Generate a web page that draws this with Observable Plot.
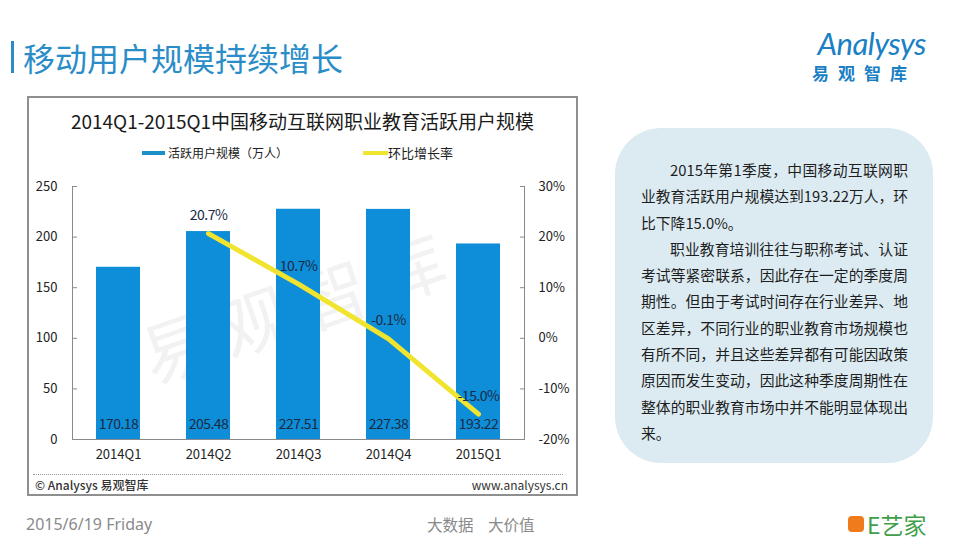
<!DOCTYPE html>
<html>
<head>
<meta charset="utf-8">
<script src="https://cdn.jsdelivr.net/npm/d3@7"></script>
<script src="https://cdn.jsdelivr.net/npm/@observablehq/plot@0.6"></script>
<style>
  html, body { margin: 0; padding: 0; }
  body { width: 960px; height: 540px; position: relative; overflow: hidden; background: #fff;
         font-family: "Noto Sans CJK SC", "Noto Sans", sans-serif; color: #222; }
  .abs { position: absolute; }
  #pageTitle { left: 23px; top: 39px; font-size: 32px; line-height: 36px; color: #2a8dc8; white-space: nowrap; }
  #titleBar { left: 11px; top: 41px; width: 3px; height: 32px; background: #2a8dc8; }
  #logo1 { left: 790px; top: 24px; width: 136px; text-align: right; font-family: Lato, sans-serif; font-size: 31px; line-height: 38px; color: #1a80c4; font-style: italic; letter-spacing: -0.5px; }
  #logo2 { left: 812px; top: 62px; font-size: 17px; line-height: 22px; font-weight: bold; color: #1a80c4; letter-spacing: 9px; white-space: nowrap; }
  #box { left: 27px; top: 96px; width: 551px; height: 400px; box-sizing: border-box; border: 2px solid #8f8f8f; }
  #chartTitle { left: 27px; top: 108px; width: 551px; text-align: center; font-size: 19px; line-height: 26px; color: #1a1a1a; white-space: nowrap; }
  .legSw { height: 4px; }
  .legTx { font-size: 12px; line-height: 16px; color: #222; white-space: nowrap; }
  #watermark { left: 298px; top: 303px; transform: translate(-50%, -50%) rotate(-19deg); font-size: 70px; line-height: 80px; letter-spacing: 12px; color: rgba(150,150,150,0.12); white-space: nowrap; }
  #chart { left: 27px; top: 170px; }
  #chart svg g[aria-label="text"] text { letter-spacing: -0.5px; }
  #dots { left: 33px; top: 474px; width: 530px; border-top: 1px dotted #9a9a9a; }
  #copy { left: 35px; top: 476px; font-size: 12px; line-height: 18px; color: #333; font-weight: 500; white-space: nowrap; }
  #www { left: 400px; width: 168px; text-align: right; top: 476px; font-size: 12px; line-height: 18px; color: #333; white-space: nowrap; }
  #panel { left: 615px; top: 128px; width: 318px; height: 335px; border-radius: 46px; background: #dcebf2; }
  #panelText { left: 641px; top: 157px; width: 267px; font-size: 14.8px; line-height: 26.3px; color: #1e1e1e; }
  #panelText div { white-space: nowrap; text-align: justify; text-align-last: justify; }
  #panelText div.ind { padding-left: 29px; }
  #panelText div.last { text-align-last: left; }
  #date { left: 26px; top: 513px; font-size: 16px; line-height: 22px; color: #8a8a8a; font-family: "Noto Sans", sans-serif; }
  #slogan1 { left: 427px; top: 513px; font-size: 15.5px; line-height: 22px; color: #8a8a8a; }
  #slogan2 { left: 488px; top: 513px; font-size: 15.5px; line-height: 22px; color: #8a8a8a; }
  #eicon { left: 848px; top: 516px; width: 16px; height: 16px; border-radius: 4px; background: #ef7b1c; }
  #etext { left: 867px; top: 510px; font-size: 23px; line-height: 28px; color: #3f9f48; white-space: nowrap; }
</style>
</head>
<body>
<div id="titleBar" class="abs"></div>
<div id="pageTitle" class="abs">移动用户规模持续增长</div>
<div id="logo1" class="abs">Analysys</div>
<div id="logo2" class="abs">易观智库</div>

<div id="box" class="abs"></div>
<div id="chartTitle" class="abs">2014Q1-2015Q1中国移动互联网职业教育活跃用户规模</div>
<div class="abs legSw" style="left:142px;top:151px;width:23px;background:#1a90c8;"></div>
<div class="abs legTx" style="left:168px;top:145px;">活跃用户规模（万人）</div>
<div class="abs legSw" style="left:363px;top:151px;width:25px;background:#f1e42e;"></div>
<div class="abs legTx" style="left:388px;top:145px;font-size:13px;">环比增长率</div>
<div id="watermark" class="abs">易观智库</div>
<div id="chart" class="abs"></div>
<div id="dots" class="abs"></div>
<div id="copy" class="abs">© Analysys 易观智库</div>
<div id="www" class="abs">www.analysys.cn</div>

<div id="panel" class="abs"></div>
<div id="panelText" class="abs">
  <div class="ind">2015年第1季度，中国移动互联网职</div>
  <div>业教育活跃用户规模达到193.22万人，环</div>
  <div class="last">比下降15.0%。</div>
  <div class="ind">职业教育培训往往与职称考试、认证</div>
  <div>考试等紧密联系，因此存在一定的季度周</div>
  <div>期性。但由于考试时间存在行业差异、地</div>
  <div>区差异，不同行业的职业教育市场规模也</div>
  <div>有所不同，并且这些差异都有可能因政策</div>
  <div>原因而发生变动，因此这种季度周期性在</div>
  <div>整体的职业教育市场中并不能明显体现出</div>
  <div class="last">来。</div>
</div>

<div id="date" class="abs">2015/6/19 Friday</div>
<div id="slogan1" class="abs">大数据</div>
<div id="slogan2" class="abs">大价值</div>
<div id="eicon" class="abs"></div>
<div id="etext" class="abs">E艺家</div>

<script>
// ---- data ----
const quarters = ["2014Q1", "2014Q2", "2014Q3", "2014Q4", "2015Q1"];
const users = [170.18, 205.48, 227.51, 227.38, 193.22];          // 万人
const growthQuarters = ["2014Q2", "2014Q3", "2014Q4", "2015Q1"];
const growth = [20.7, 10.7, -0.1, -15.0];                          // %
const leftTicks = [0, 50, 100, 150, 200, 250];
const rightTicks = [-20, -10, 0, 10, 20, 30];

// right-axis (percent) domain mapped onto the left-axis domain
const leftMax = 250, pctMin = -20, pctMax = 30;
const toLeft = p => (p - pctMin) / (pctMax - pctMin) * leftMax;
const toPct = v => v / leftMax * (pctMax - pctMin) + pctMin;

const bars = quarters.map((q, i) => ({q, v: users[i]}));
const rates = growthQuarters.map((q, i) => ({q, r: growth[i], y: toLeft(growth[i])}));

const labelFont = '"Noto Sans CJK SC", sans-serif';
const axisColor = "#8a8a8a";

const chart = Plot.plot({
  width: 551,
  height: 300,
  marginLeft: 45,
  marginRight: 54,
  marginTop: 16,
  marginBottom: 31,
  style: {background: "transparent", fontFamily: '"Noto Sans CJK SC", sans-serif', fontSize: "13px", color: "#222", overflow: "visible"},
  x: {domain: quarters, paddingInner: 0.515, paddingOuter: 0.253, label: null},
  y: {domain: [0, leftMax], label: null},
  marks: [
    Plot.barY(bars, {x: "q", y: "v", fill: "#0e8ed8"}),
    Plot.text(bars, {x: "q", y: () => 0, text: d => d.v.toFixed(2), dy: -15, fill: "#1b2b44", fontSize: 14, fontFamily: labelFont}),
    Plot.line(rates, {x: "q", y: "y", stroke: "#f1e42e", strokeWidth: 5, strokeLinecap: "round", strokeLinejoin: "round"}),
    Plot.text(rates, {x: "q", y: "y", text: d => d.r.toFixed(1) + "%", dy: -18, fill: "#1b2b44", fontSize: 14, fontFamily: labelFont}),
    Plot.ruleY([0], {stroke: axisColor}),
    Plot.frame({anchor: "left", stroke: axisColor}),
    Plot.frame({anchor: "right", stroke: axisColor}),
    Plot.axisX({tickSize: 0, tickPadding: 10, label: null, fill: "#222"}),
    Plot.axisY({anchor: "left", ticks: leftTicks, tickSize: -5, tickPadding: 20, label: null, stroke: axisColor, fill: "#222"}),
    Plot.axisY({anchor: "right", ticks: rightTicks.map(toLeft), tickFormat: v => Math.round(toPct(v)) + "%", tickSize: -5, tickPadding: 19, label: null, stroke: axisColor, fill: "#222"})
  ]
});
document.getElementById("chart").appendChild(chart);
</script>
</body>
</html>
